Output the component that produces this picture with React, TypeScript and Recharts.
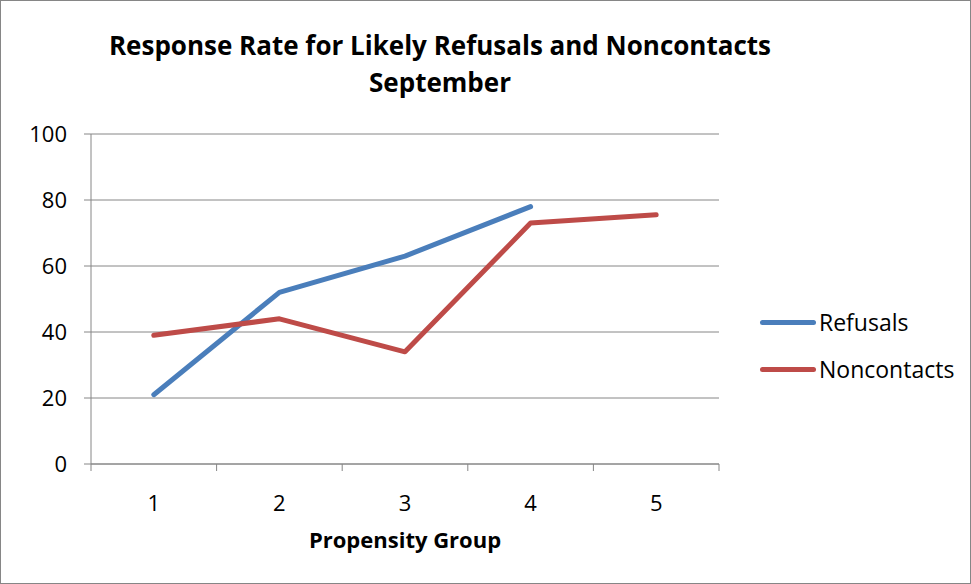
import { CartesianGrid, Line, LineChart, XAxis, YAxis } from "recharts";

const groups = [1, 2, 3, 4, 5];
const refusals = [21, 52, 63, 78, null];
const noncontacts = [39, 44, 34, 73, 75.5];
const yTicks = [0, 20, 40, 60, 80, 100];

const data = groups.map((g, i) => ({
  group: g,
  Refusals: refusals[i],
  Noncontacts: noncontacts[i],
}));

const W = 971;
const H = 584;
const PLOT_LEFT = 91;
const PLOT_RIGHT = 719;
const PLOT_TOP = 134;
const PLOT_BOTTOM = 464;
const BAND = (PLOT_RIGHT - PLOT_LEFT) / groups.length;

const GRID = "#868686";
const FONT = "'Open Sans', Lato, sans-serif";

const series = [
  { key: "Refusals", color: "#4a7ebb" },
  { key: "Noncontacts", color: "#be4b48" },
];

function GroupTick(props: any) {
  const { x, y, payload, index } = props;
  const last = index === groups.length - 1;
  return (
    <g>
      <line x1={x - BAND / 2} x2={x - BAND / 2} y1={y} y2={y + 7} stroke={GRID} />
      {last && <line x1={x + BAND / 2} x2={x + BAND / 2} y1={y} y2={y + 7} stroke={GRID} />}
      <text
        x={x}
        y={y + 38}
        textAnchor="middle"
        dominantBaseline="central"
        fontSize={22}
        fill="#000"
        fontFamily={FONT}
      >
        {payload.value}
      </text>
    </g>
  );
}

export default function App() {
  return (
    <div
      style={{
        position: "fixed",
        left: 0,
        top: 0,
        width: W,
        height: H,
        boxSizing: "border-box",
        border: `1px solid ${GRID}`,
        background: "#fff",
        fontFamily: FONT,
      }}
    >
      <div
        style={{
          position: "absolute",
          left: 0,
          width: 878,
          top: 26,
          textAlign: "center",
          fontWeight: 700,
          fontSize: 26,
          lineHeight: "37px",
          color: "#000",
        }}
      >
        Response Rate for Likely Refusals and Noncontacts
        <br />
        September
      </div>
      <div style={{ position: "absolute", left: -1, top: -1 }}>
        <LineChart
          width={W}
          height={H}
          data={data}
          margin={{ top: PLOT_TOP, right: W - PLOT_RIGHT, left: 0, bottom: 0 }}
        >
          <CartesianGrid vertical={false} stroke={GRID} strokeWidth={1} />
          <XAxis
            dataKey="group"
            type="number"
            domain={[0.5, 5.5]}
            ticks={groups}
            height={H - PLOT_BOTTOM}
            stroke={GRID}
            tickLine={false}
            tickSize={0}
            tickMargin={0}
            tick={<GroupTick />}
            interval={0}
            label={{
              value: "Propensity Group",
              position: "insideBottom",
              offset: 36,
              fill: "#000",
              fontSize: 22,
              fontWeight: 700,
              fontFamily: FONT,
            }}
          />
          <YAxis
            width={PLOT_LEFT}
            domain={[0, 100]}
            ticks={yTicks}
            interval={0}
            stroke={GRID}
            tickSize={7}
            tickMargin={17}
            tick={{ fill: "#000", fontSize: 22, fontFamily: FONT }}
          />
          {series.map((s) => (
            <Line
              key={s.key}
              dataKey={s.key}
              stroke={s.color}
              strokeWidth={5}
              strokeLinecap="round"
              strokeLinejoin="round"
              dot={false}
              activeDot={false}
              isAnimationActive={false}
            />
          ))}
        </LineChart>
      </div>
      {series.map((s, i) => (
        <div
          key={s.key}
          style={{
            position: "absolute",
            left: 759,
            top: 305 + i * 47,
            height: 32,
            display: "flex",
            alignItems: "center",
            fontSize: 23,
            color: "#000",
          }}
        >
          <span
            style={{
              display: "inline-block",
              width: 56,
              height: 5,
              borderRadius: 3,
              background: s.color,
              marginRight: 3,
            }}
          />
          {s.key}
        </div>
      ))}
    </div>
  );
}
